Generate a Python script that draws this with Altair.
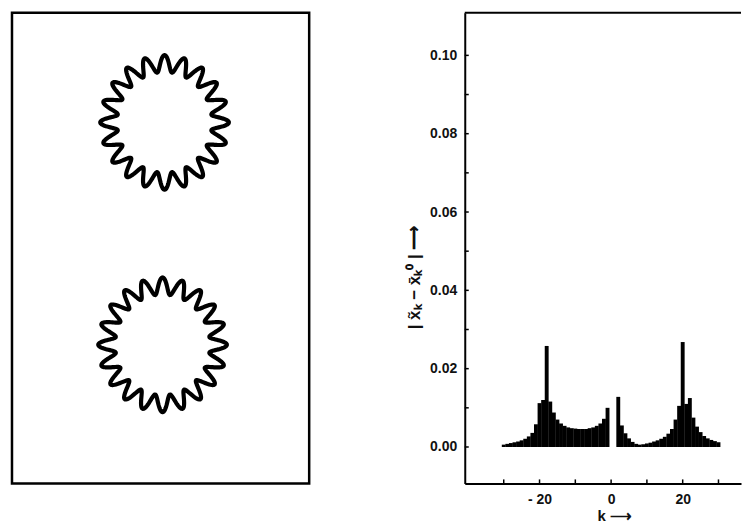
import altair as alt
import numpy as np
import pandas as pd

# ---------------- data ----------------
k_values = list(range(-30, 31))
amplitudes = [
    0.0006, 0.0008, 0.0010, 0.0012, 0.0014, 0.0017, 0.0021, 0.0027, 0.0036, 0.0058,  # -30..-21
    0.0112, 0.0120, 0.0258, 0.0116, 0.0088, 0.0070, 0.0060, 0.0054, 0.0050, 0.0048,  # -20..-11
    0.0047, 0.0046, 0.0046, 0.0046, 0.0048, 0.0050, 0.0054, 0.0060, 0.0072, 0.0100,  # -10..-1
    0.0000,                                                                          # 0
    0.0000, 0.0128, 0.0055, 0.0035, 0.0022, 0.0013, 0.0008, 0.0006, 0.0007, 0.0009,  # 1..10
    0.0011, 0.0014, 0.0017, 0.0021, 0.0026, 0.0034, 0.0046, 0.0070, 0.0105, 0.0268,  # 11..20
    0.0110, 0.0125, 0.0075, 0.0052, 0.0038, 0.0028, 0.0022, 0.0018, 0.0015, 0.0012,  # 21..30
]

y_tick_values = [0.00, 0.01, 0.02, 0.03, 0.04, 0.05, 0.06, 0.07, 0.08, 0.09, 0.10]
y_label_values = [0.00, 0.02, 0.04, 0.06, 0.08, 0.10]
x_tick_values = [-30, -20, -10, 0, 10, 20, 30]
x_label_values = [-20, 0, 20]

# contour rings of the left panel (panel units)
ring_names = ["top", "bottom"]
ring_cx = [153, 151]
ring_cy = [110, 333]
ring_rx = [56, 56]
ring_ry = [59, 59]
ring_amp = [8.5, 8.5]
ring_lobes = [20, 20]

# ---------------- left panel ----------------
LW, LH = 298, 472
rows = []
theta = np.linspace(0, 2 * np.pi, 721)
for name, cx, cy, rx, ry, a, n in zip(ring_names, ring_cx, ring_cy, ring_rx, ring_ry, ring_amp, ring_lobes):
    wave = np.cos(n * theta)
    for i, t in enumerate(theta):
        rows.append({
            "ring": name, "i": i,
            "x": cx + (rx + a * wave[i]) * np.cos(t),
            "y": cy - (ry + a * wave[i]) * np.sin(t),
        })
ring_df = pd.DataFrame(rows)

left = alt.Chart(ring_df).mark_line(
    color="black", strokeWidth=4.2, strokeJoin="round", strokeCap="round"
).encode(
    x=alt.X("x:Q", scale=alt.Scale(domain=[0, LW]), axis=None),
    y=alt.Y("y:Q", scale=alt.Scale(domain=[0, LH], reverse=True), axis=None),
    detail="ring:N",
    order="i:Q",
).properties(
    width=LW, height=LH,
    view=alt.ViewBackground(stroke="black", strokeWidth=2.5),
)

# ---------------- right panel ----------------
RW, RH = 277, 472
xscale = alt.Scale(domain=[-39.5, 34.9], nice=False, zero=False)
yscale = alt.Scale(domain=[-0.0093, 0.1109], nice=False, zero=False)

x_axis = alt.Axis(values=x_label_values, ticks=False, grid=False,
                  domainColor="black", domainWidth=2,
                  labelExpr="datum.value < 0 ? '- ' + format(-datum.value, 'd') : format(datum.value, 'd')",
                  labelFontSize=14, labelFontWeight="bold", labelPadding=9, labelColor="#111",
                  title="k  \u27f6", titleFontSize=15, titleFontWeight="bold",
                  titlePadding=2, titleX=150, titleColor="#111")
y_axis = alt.Axis(values=y_label_values, ticks=False, grid=False, format=".2f",
                  domainColor="black", domainWidth=2,
                  labelFontSize=14, labelFontWeight="bold", labelPadding=8, labelColor="#111",
                  title="| x\u0303\u2096  \u2212  x\u0304\u2096\u2070 |     \u27f6",
                  titleFontSize=17, titleFontWeight="bold", titleColor="#111",
                  titlePadding=6, titleY=265)

spec_df = pd.DataFrame({"k": k_values, "v": amplitudes})

bars = alt.Chart(spec_df).mark_bar(color="black", size=3.9).encode(
    x=alt.X("k:Q", scale=xscale, axis=x_axis),
    y=alt.Y("v:Q", scale=yscale, axis=y_axis),
    y2=alt.datum(0),
)

ytick_df = pd.DataFrame({"v": y_tick_values})
yticks = alt.Chart(ytick_df).mark_rule(color="black", strokeWidth=1.5).encode(
    y=alt.Y("v:Q", scale=yscale, axis=y_axis),
    x=alt.value(0), x2=alt.value(4),
)

xtick_df = pd.DataFrame({"k": x_tick_values})
xticks = alt.Chart(xtick_df).mark_rule(color="black", strokeWidth=1.5).encode(
    x=alt.X("k:Q", scale=xscale, axis=x_axis),
    y=alt.value(RH), y2=alt.value(RH - 4),
)

topline = alt.Chart(pd.DataFrame({"edge": ["top"]})).mark_rule(color="black", strokeWidth=2).encode(
    x=alt.value(0), x2=alt.value(RW), y=alt.value(0),
)

right = alt.layer(bars, yticks, xticks, topline).properties(
    width=RW, height=RH,
    view=alt.ViewBackground(strokeWidth=0),
)

chart = alt.hconcat(left, right, spacing=94).properties(
    padding={"left": 2, "top": 2, "right": 0, "bottom": 0},
    background="white",
).configure_view(strokeWidth=0).configure(font="Liberation Sans")

chart.save("out.html", embed_options={"renderer": "svg", "actions": False})
